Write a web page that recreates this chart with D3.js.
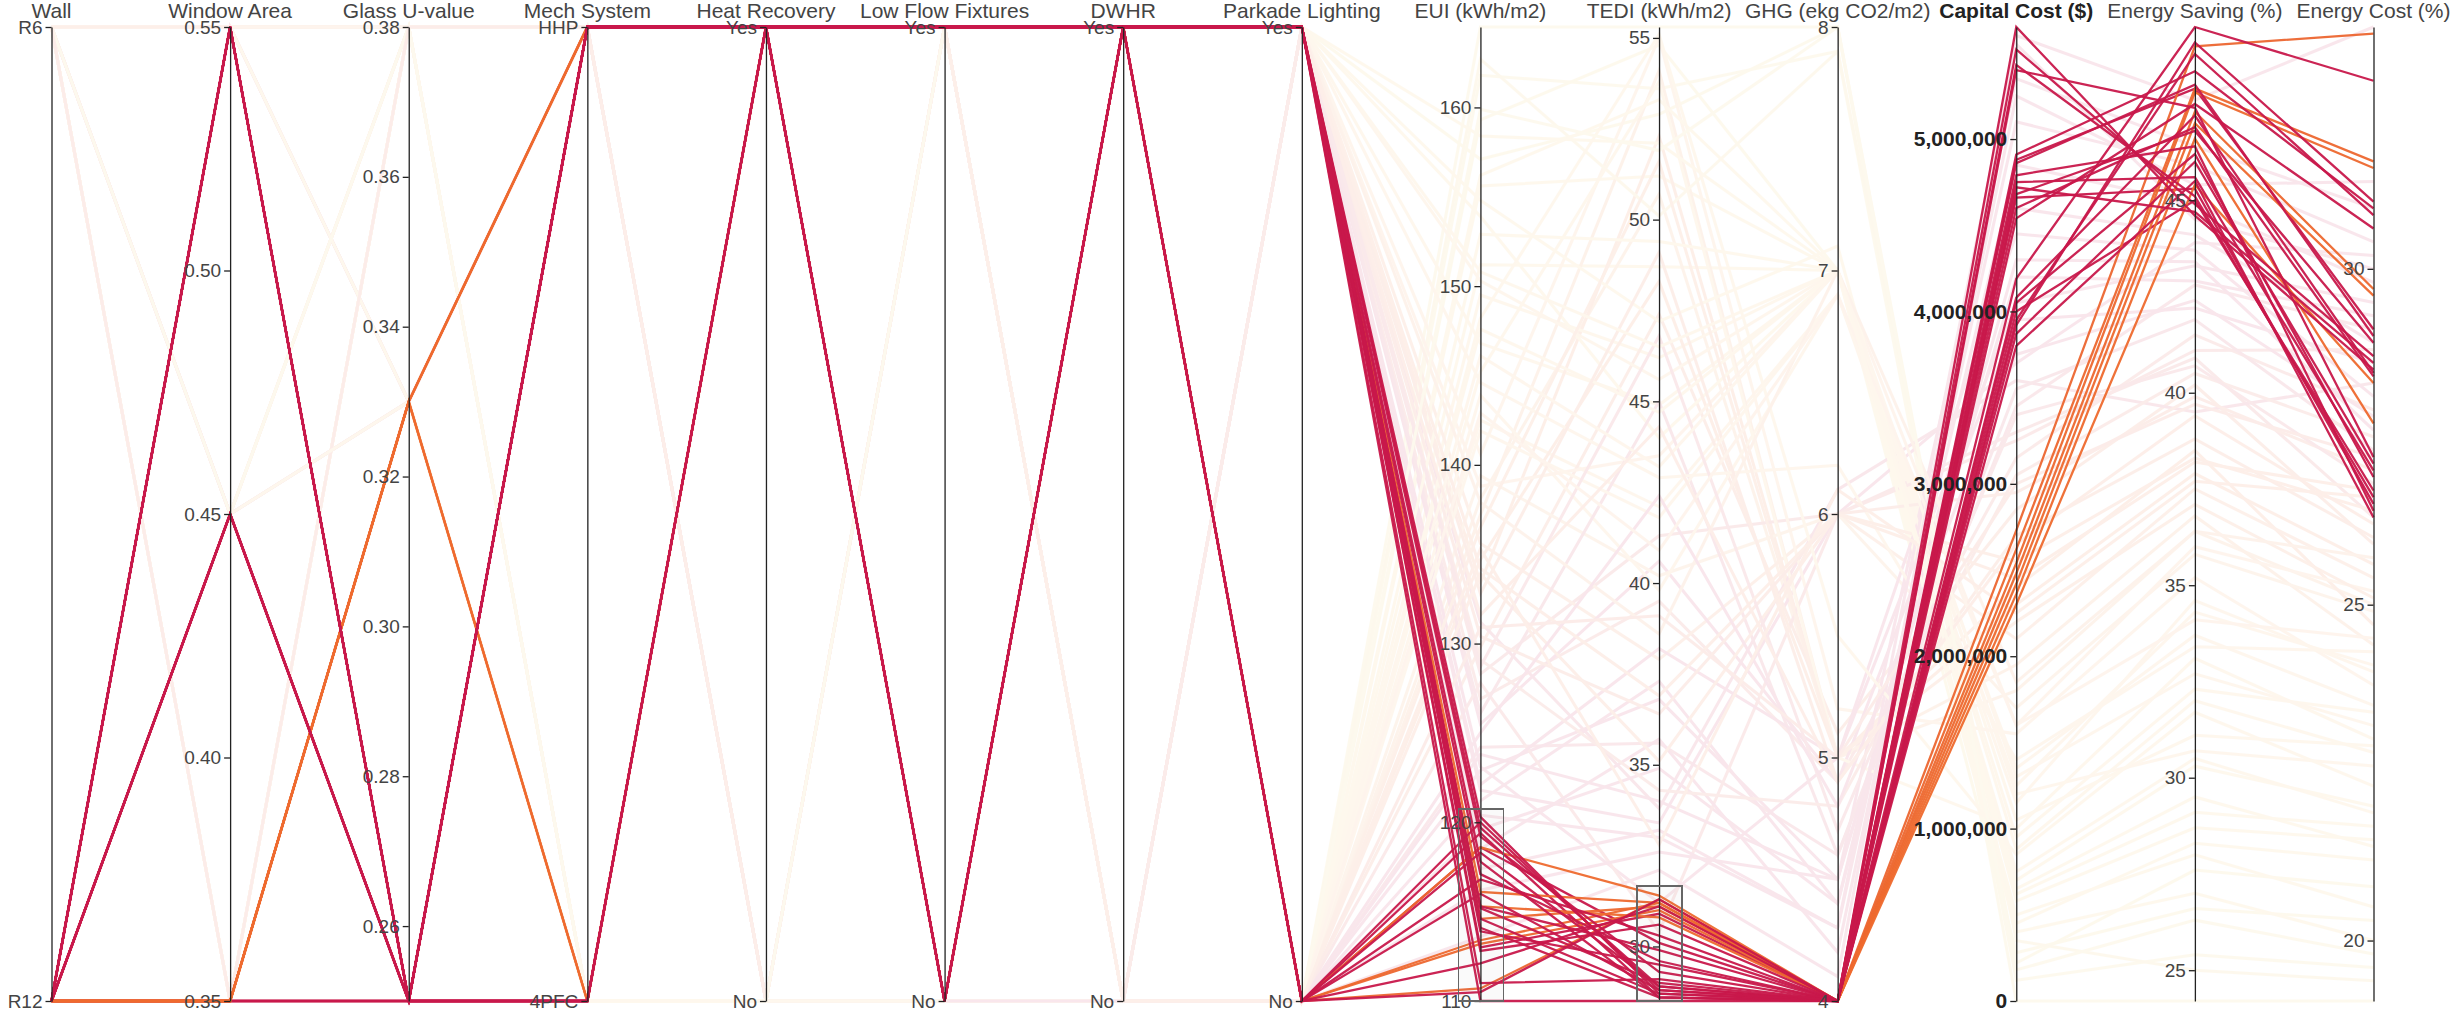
<!DOCTYPE html>
<html>
<head>
<meta charset="utf-8">
<style>
  body { margin: 0; background: #fff; }
  svg { font-family: "Liberation Sans", Arial, sans-serif; }
  .axis path, .axis line { stroke: #222; stroke-width: 1.3; }
  .axis text { fill: #444; font-size: 19px; }
  .axis.bold text { fill: #222; font-size: 21px; font-weight: bold; }
  .title { fill: #444; font-size: 21px; text-anchor: middle; }
  .title.bold { fill: #222; font-weight: bold; }
</style>
</head>
<body>
<script src="https://cdn.jsdelivr.net/npm/d3@7"></script>
<script>

// axis names, left to right
var dimNames = ["Wall", "Window Area", "Glass U-value", "Mech System", "Heat Recovery",
  "Low Flow Fixtures", "DWHR", "Parkade Lighting", "EUI (kWh/m2)", "TEDI (kWh/m2)",
  "GHG (ekg CO2/m2)", "Capital Cost ($)", "Energy Saving (%)", "Energy Cost (%)"];

// category labels, bottom to top
var wallLabels = ["R12", "R6"];
var mechLabels = ["4PFC", "HHP"];
var yesNoLabels = ["No", "Yes"];

// tick labels of the numeric axes
var windowTicks = [0.35, 0.40, 0.45, 0.50, 0.55];
var glassTicks = [0.26, 0.28, 0.30, 0.32, 0.34, 0.36, 0.38];
var euiTicks = [110, 120, 130, 140, 150, 160];
var tediTicks = [30, 35, 40, 45, 50, 55];
var ghgTicks = [4, 5, 6, 7, 8];
var capitalTicks = [0, 1000000, 2000000, 3000000, 4000000, 5000000];
var savingTicks = [25, 30, 35, 40, 45];
var costTicks = [20, 25, 30];

// brushed ranges on EUI and TEDI
var euiBrush = [110, 120.73];
var tediBrush = [28.5, 31.66];

// one entry per design option (first 29 fall inside the brushes)
var wall = [0,0,0,0,0,0,0,0,0,0, 0,0,0,0,0,0,0,0,0,0, 0,0,0,0,0,0,0,0,0,
  1,1,1,0,0,1,0,1,0,1, 0,1,0,1,0,1,0,1,0,1, 0,1,0,1,0,1,0,1,0,1, 0,1,0,1,0,1,0,1,0,1, 0,1,0,1,0,1,0,1,0,1, 0,1,0,1,0,1,0,1,0,1, 0,1,0,1,0,1];
var windowArea = [.35,.35,.35,.35,.35,.35,.35,.35,.35,.35, .55,.55,.45,.55,.45,.55,.45,.55,.55,.45, .55,.45,.55,.45,.55,.45,.55,.45,.55,
  .35,.45,.55,.35,.45,.55,.35,.45,.55,.35, .45,.55,.35,.45,.55,.35,.45,.55,.35,.45, .55,.35,.45,.55,.35,.45,.55,.35,.45,.55,
  .35,.45,.55,.35,.45,.55,.35,.45,.55,.35, .45,.55,.35,.45,.55,.35,.45,.55,.35,.45, .55,.35,.45,.55,.35,.45,.55,.35,.45,.55, .35,.45,.55,.35,.45,.55];
var glassU = [.25,.25,.25,.33,.33,.33,.33,.33,.33,.33, .25,.25,.25,.25,.25,.25,.25,.25,.25,.25, .25,.25,.25,.25,.25,.25,.25,.25,.25,
  .38,.38,.38,.38,.33,.33,.25,.25,.38,.33, .25,.25,.38,.38,.33,.25,.38,.38,.33,.33, .25,.38,.25,.33,.25,.38,.38,.33,.33,.25,
  .38,.25,.33,.25,.38,.38,.33,.33,.25,.38, .25,.33,.25,.38,.38,.33,.33,.25,.38,.25, .33,.38,.38,.33,.25,.33,.25,.25,.25,.38, .33,.38,.25,.38,.33,.25];
var mech = [1,1,0,1,1,0,1,0,1,0, 1,0,1,1,0,1,1,0,1,1, 0,1,1,0,1,1,0,1,1,
  0,0,0,0,0,0,0,1,1,1, 0,1,1,0,1,0,0,1,0,1, 0,1,1,0,1,1,0,0,1,0, 0,1,0,1,1,0,1,0,1,0, 0,1,0,1,1,0,0,1,1,0, 1,1,0,0,1,1,0,0,1,0, 1,0,1,1,0,0];
var heatRecovery = [1,1,1,1,1,1,1,1,1,1, 1,1,1,1,1,1,1,1,1,1, 1,1,1,1,1,1,1,1,1,
  0,0,0,0,0,1,1,0,1,1, 1,1,0,1,0,0,0,1,1,0, 1,0,1,0,1,1,0,1,1,0, 1,1,1,0,0,1,1,0,0,0, 0,1,0,0,0,1,1,1,1,1, 1,0,1,0,0,1,0,1,0,1, 0,0,1,1,0,1];
var lowFlow = [1,1,1,1,0,1,1,0,1,0, 1,0,1,0,1,0,1,0,1,0, 1,1,0,0,1,0,1,1,0,
  0,0,1,0,1,0,1,0,1,0, 0,1,1,0,0,1,0,0,1,1, 1,0,0,0,1,1,1,1,0,0, 0,1,1,1,0,1,1,0,1,1, 0,0,1,1,0,0,1,1,0,0, 1,0,1,1,0,1,0,1,1,0, 1,1,0,1,0,1];
var dwhr = [1,1,1,1,1,1,1,1,1,1, 1,1,1,1,1,1,1,1,1,1, 1,1,1,1,1,1,1,1,1,
  0,0,0,1,1,0,0,0,1,1, 1,1,0,0,1,1,0,0,1,0, 0,1,0,0,0,1,0,1,1,1, 1,0,1,1,0,0,0,1,0,0, 0,1,1,1,0,0,0,0,0,1, 1,0,1,1,1,1,0,1,0,1, 1,0,0,1,1,0];
var parkade = [1,0,0,0,0,0,1,1,1,0, 1,1,1,1,0,0,1,1,1,1, 0,1,0,1,1,0,1,0,1,
  0,0,0,0,0,1,0,0,1,0, 1,0,1,0,0,1,1,1,1,0, 1,1,0,0,1,1,0,0,1,1, 0,0,0,0,0,1,0,1,1,1, 0,1,1,0,1,0,1,1,1,0, 1,0,1,0,1,0,0,1,0,0, 1,0,0,0,1,0];
var eui = [113.0,118.6,119.4,110.7,113.2,113.4,114.6,115.3,116.1,118.6, 110.0,120.3,119.7,119.2,112.1,116.0,117.8,115.3,113.9,114.6,
  116.8,111.0,118.3,117.1,112.8,120.0,115.2,110.5,114.1,
  164.5,161.8,159.3,155.6,151.2,146.8,142.5,138.1,126.9,124.2, 121.8,122.9,133.4,149.5,129.8,153.9,157.1,128.3,135.6,137.2,
  131.2,140.6,119.6,162.7,117.4,125.5,156.2,139.4,123.1,150.3, 143.9,121.2,127.8,134.7,145.2,138.8,116.2,154.8,126.1,158.4,
  147.6,122.1,144.6,136.5,132.8,141.9,130.4,118.5,129.1,133.9, 120.4,148.2,137.9,152.9,128.7,123.8,146.1,134.2,125.0,142.9,
  131.6,159.9,113.6,130.9,150.8,135.3];
var tedi = [30.9,30.1,28.6,31.3,31.0,31.2,31.1,30.8,31.2,31.4, 28.5,28.7,28.9,29.3,31.1,28.8,28.6,29.9,29.5,28.7,
  30.3,29.1,28.9,29.6,30.6,28.8,29.0,31.3,28.6,
  55.3,53.6,54.8,51.2,48.7,44.9,42.1,50.7,39.5,35.6, 33.4,36.8,52.3,46.2,47.4,44.0,52.9,41.3,37.9,54.1,
  33.8,55.0,34.9,50.1,33.2,40.6,53.3,40.2,31.2,45.6, 39.8,37.3,30.4,48.3,53.8,43.5,32.6,47.2,45.0,52.1,
  44.7,38.2,42.9,51.6,49.1,41.8,36.4,35.7,34.3,35.1, 33.0,55.1,38.6,49.4,46.8,34.0,43.2,36.9,42.4,40.9,
  44.3,51.9,32.1,39.1,46.5,32.8];
var ghg = [4,4,4,4,4,4,4,4,4,4, 4,4,4,4,4,4,4,4,4,4, 4,4,4,4,4,4,4,4,4,
  8.0,7.9,7.0,7.0,7.0,7.0,6.9,5.0,4.9,4.6, 6.0,4.5,5.0,7.0,5.1,7.0,8.0,6.0,6.0,5.0,
  6.1,5.2,4.4,7.9,4.3,4.9,7.0,6.0,5.0,7.0, 6.9,4.4,6.0,5.0,5.0,7.0,4.5,7.1,4.6,7.0,
  7.0,5.0,6.2,5.0,4.9,6.9,6.0,4.2,4.8,6.0, 4.3,5.5,7.0,7.0,4.7,4.5,7.0,6.0,4.8,6.9,
  4.9,8.0,4.1,5.0,7.0,6.1];
var capitalCost = [4880000,4660000,4000000,2730000,2620000,2540000,2480000,2420000,2360000,2300000,
  4190000,5650000,5520000,5430000,4910000,4790000,4750000,4680000,4540000,4080000,
  4050000,3950000,3800000,3870000,4860000,4720000,4600000,3920000,5400000,
  0,120000,280000,450000,700000,950000,1250000,1800000,3150000,3450000,
  3700000,4300000,2400000,1050000,2850000,620000,220000,3300000,2100000,1950000,
  3600000,1550000,4850000,350000,5100000,3950000,500000,1700000,4050000,1200000,
  1350000,4600000,3250000,2300000,1000000,1600000,5350000,580000,3550000,400000,
  880000,4450000,1400000,2200000,2700000,1150000,2950000,5250000,3050000,2550000,
  5550000,850000,1850000,650000,3400000,4200000,1300000,2450000,3750000,1600000,
  2650000,180000,5600000,3000000,750000,2250000];
var energySaving = [47.9,45.3,45.0,49.0,47.9,47.8,47.3,47.0,46.6,45.4, 49.5,44.6,44.9,45.1,48.35,46.4,45.6,46.8,47.5,47.2,
  46.2,48.8,45.5,46.0,48.0,44.7,46.9,49.1,47.4,
  24.2,25.4,26.6,28.3,30.3,32.3,34.3,36.4,41.5,42.8, 43.9,43.4,38.5,31.1,40.2,29.1,27.6,40.9,37.5,36.8,
  39.5,35.2,44.9,25.0,45.9,42.2,28.0,35.8,43.3,30.7, 33.7,44.1,41.1,37.9,33.1,36.0,46.4,28.7,41.9,27.0,
  32.0,43.7,33.4,37.1,38.8,34.6,39.9,45.4,40.5,38.3, 44.5,31.7,36.4,29.5,40.7,42.9,32.7,38.2,42.4,34.1,
  39.4,26.3,47.6,39.7,30.5,37.7];
var energyCost = [29.1,26.5,26.7,33.5,31.6,31.5,29.7,29.6,27.7,28.3, 32.8,28.5,28.7,26.6,30.9,26.4,27.0,28.9,30.6,28.45,
  26.9,30.8,26.3,27.1,29.0,28.6,28.4,31.0,27.2,
  19.1,19.6,20.3,21.2,22.0,23.4,24.1,25.0,27.9,29.1, 30.2,27.6,24.7,22.9,25.9,21.7,20.8,26.3,25.4,24.4,
  28.3,23.8,29.8,19.4,30.4,28.6,20.5,24.9,29.5,22.6, 23.5,28.9,28.8,25.6,23.0,25.2,30.9,21.5,27.3,20.0,
  22.8,28.1,24.3,25.1,26.0,24.0,27.0,31.3,27.5,26.4, 30.0,22.3,25.7,21.4,26.8,29.3,23.2,26.7,27.8,24.5,
  26.2,19.8,33.6,27.2,21.9,26.6];

var width = 2450, height = 1016;
var yTop = 27, yBottom = 1001;

var columns = [wall, windowArea, glassU, mech, heatRecovery, lowFlow, dwhr, parkade,
  eui, tedi, ghg, capitalCost, energySaving, energyCost];
var catLabels = {0: wallLabels, 3: mechLabels, 4: yesNoLabels, 5: yesNoLabels, 6: yesNoLabels, 7: yesNoLabels};
var tickSets = {1: windowTicks, 2: glassTicks, 8: euiTicks, 9: tediTicks, 10: ghgTicks,
  11: capitalTicks, 12: savingTicks, 13: costTicks};

var rows = d3.range(eui.length).map(function(i) {
  return columns.map(function(col, j) { return catLabels[j] ? catLabels[j][col[i]] : col[i]; });
});

var x = d3.scalePoint().domain(dimNames).range([51.5, 2373.5]);

var y = columns.map(function(col, j) {
  return catLabels[j]
    ? d3.scalePoint().domain(catLabels[j]).range([yBottom, yTop])
    : d3.scaleLinear().domain(d3.extent(col)).range([yBottom, yTop]);
});

var color = d3.scaleLinear()
    .domain([0, 1500000, 2300000, 2800000, 3700000])
    .range(["#f5cf5e", "#f7a85a", "#ee6a2e", "#ec6530", "#c8184b"])
    .clamp(true);

var svg = d3.select("body").append("svg")
    .attr("width", width)
    .attr("height", height);

var line = d3.line()
    .x(function(v, j) { return x(dimNames[j]); })
    .y(function(v, j) { return y[j](v); });

function inBrush(r) {
  return r[8] >= euiBrush[0] && r[8] <= euiBrush[1] && r[9] >= tediBrush[0] && r[9] <= tediBrush[1];
}

// faded lines
svg.append("g")
    .attr("opacity", 0.1)
  .selectAll("path")
  .data(rows.filter(function(r) { return !inBrush(r); }))
  .enter().append("path")
    .attr("d", line)
    .attr("fill", "none")
    .attr("stroke", function(r) { return color(r[11]); })
    .attr("stroke-width", 3);

// brushed lines
svg.append("g")
  .selectAll("path")
  .data(rows.filter(inBrush))
  .enter().append("path")
    .attr("d", line)
    .attr("fill", "none")
    .attr("stroke", function(r) { return color(r[11]); })
    .attr("stroke-width", 2.3)
    .attr("stroke-opacity", 0.95);

var axisG = svg.selectAll(".dim")
    .data(dimNames)
  .enter().append("g")
    .attr("class", "dim")
    .attr("transform", function(d) { return "translate(" + x(d) + ",0)"; });

axisG.each(function(d, j) {
  var g = d3.select(this);
  var axis = d3.axisLeft(y[j]).tickSizeOuter(0);
  if (tickSets[j]) axis.tickValues(tickSets[j]);
  if (j == 1 || j == 2) axis.tickFormat(d3.format(".2f"));
  if (j >= 8 && j != 11) axis.tickFormat(d3.format("d"));
  if (j == 11) axis.tickFormat(d3.format(","));
  g.append("g")
      .attr("class", j == 11 ? "axis bold" : "axis")
      .call(axis)
      .attr("font-size", null)
      .attr("font-family", null);

  if (j == 8 || j == 9) {
    var range = j == 8 ? euiBrush : tediBrush;
    var brush = d3.brushY().extent([[-22, yTop], [23, yBottom]]);
    var bg = g.append("g").attr("class", "brush").call(brush);
    bg.call(brush.move, [y[j](range[1]), y[j](range[0])]);
    bg.select(".selection")
        .attr("fill", "#777")
        .attr("fill-opacity", 0.04)
        .attr("stroke", "#666")
        .attr("stroke-width", 1.6);
  }

  g.append("text")
      .attr("class", j == 11 ? "title bold" : "title")
      .attr("y", 18)
      .text(d);
});

</script>
</body>
</html>
